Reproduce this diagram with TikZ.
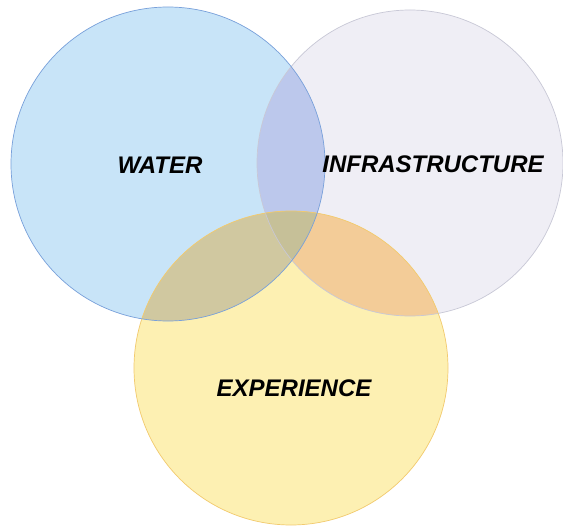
\documentclass[tikz,border=0pt]{standalone}
\usepackage{fontspec}
\setmainfont{Liberation Sans}
\definecolor{waterfill}{RGB}{200,228,248}
\definecolor{infrafill}{RGB}{239,238,245}
\definecolor{expfill}{RGB}{253,240,178}
\definecolor{wiFill}{RGB}{188,200,236}
\definecolor{weFill}{RGB}{208,200,160}
\definecolor{ieFill}{RGB}{243,204,152}
\definecolor{wieFill}{RGB}{198,192,152}
\definecolor{waterline}{RGB}{120,160,218}
\definecolor{infraline}{RGB}{200,200,214}
\definecolor{expline}{RGB}{242,202,110}
\tikzset{
  lbl/.style={font=\fontsize{24}{28}\selectfont\bfseries\itshape, text=black, inner sep=0pt},
  rim/.style={line width=0.7pt}
}
\begin{document}
\begin{tikzpicture}[x=1pt,y=-1pt]
\useasboundingbox (0,0) rectangle (563,527);
\fill[white] (0,0) rectangle (563,527);
% base fills
\fill[waterfill] (168,164) circle (157);
\fill[infrafill] (410,163) circle (153);
\fill[expfill] (291,368) circle (157);
% pairwise overlaps
\begin{scope}
  \clip (168,164) circle (157);
  \fill[wiFill] (410,163) circle (153);
\end{scope}
\begin{scope}
  \clip (168,164) circle (157);
  \fill[weFill] (291,368) circle (157);
\end{scope}
\begin{scope}
  \clip (410,163) circle (153);
  \fill[ieFill] (291,368) circle (157);
\end{scope}
\begin{scope}
  \clip (168,164) circle (157);
  \clip (410,163) circle (153);
  \fill[wieFill] (291,368) circle (157);
\end{scope}
% rims
\draw[rim, infraline] (410,163) circle (153);
\draw[rim, expline] (291,368) circle (157);
\draw[rim, waterline] (168,164) circle (157);
% labels
\node[lbl] (water) at (160,165) {WATER};
\node[lbl] (infra) at (433,164) {INFRASTRUCTURE};
\node[lbl] (exp) at (294,388) {EXPERIENCE};
\end{tikzpicture}
\end{document}
